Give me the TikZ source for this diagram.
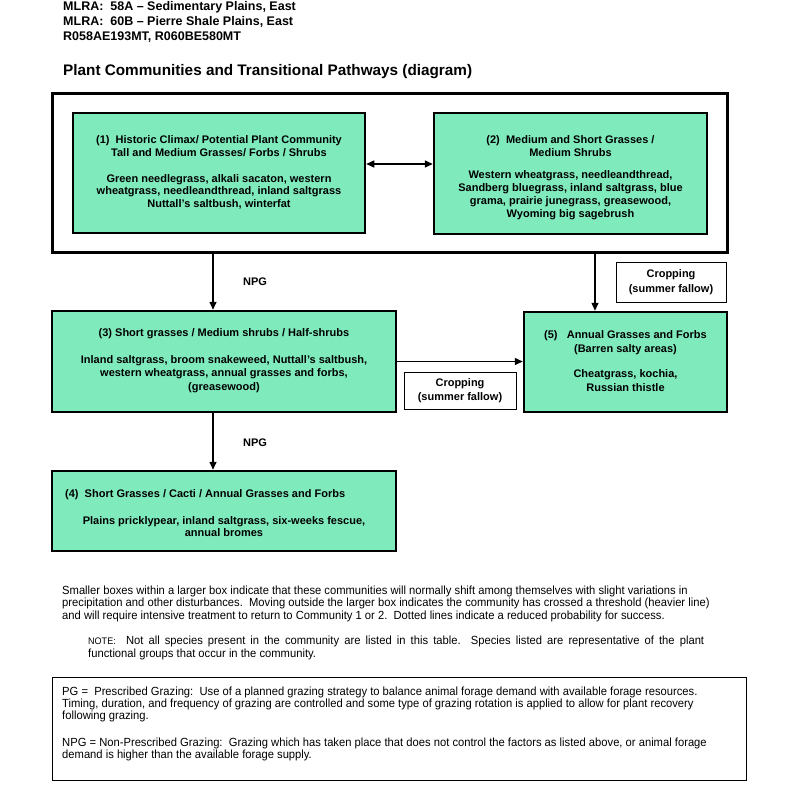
\documentclass[tikz,border=0pt]{standalone}
\usepackage{fontspec}
\setmainfont{Liberation Sans}
\newfontfamily\narrowfont[FakeStretch=0.95]{Liberation Sans}
\usetikzlibrary{arrows.meta}
\definecolor{mint}{RGB}{127,235,189}
\tikzset{
  plantbox/.style={draw=black, fill=mint, line width=2.5pt, rectangle, inner sep=0pt},
  outerbox/.style={draw=black, line width=3pt, rectangle, inner sep=0pt},
  cropbox/.style={draw=black, line width=1pt, fill=white, rectangle, inner sep=0pt, align=center,
     font=\bfseries\fontsize{11}{14.5}\selectfont},
  boxtext/.style={align=center, inner sep=0pt, font=\bfseries\fontsize{11}{12.8}\selectfont},
  lbl/.style={inner sep=0pt, font=\bfseries\fontsize{11}{13}\selectfont},
  head/.style={anchor=base west, inner sep=0pt, font=\bfseries\fontsize{12.5}{15}\selectfont},
  bodyline/.style={anchor=base west, inner sep=0pt, font=\narrowfont\fontsize{11.8}{12.5}\selectfont},
  arr/.style={line width=1.5pt, -{Triangle[length=8pt,width=7pt]}},
  darr/.style={line width=1.5pt, {Triangle[length=8pt,width=7pt]}-{Triangle[length=8pt,width=7pt]}},
  notebox/.style={draw=black, line width=0.9pt, rectangle, inner sep=0pt}
}
\begin{document}
\begin{tikzpicture}[x=1pt,y=-1pt]
\useasboundingbox[fill=white] (0,0) rectangle (800,809);

% header
\node[head] (h1) at (63,10) {MLRA:\ \ 58A -- Sedimentary Plains, East};
\node[head] (h2) at (63,25.5) {MLRA:\ \ 60B -- Pierre Shale Plains, East};
\node[head] (h3) at (63,40.5) {R058AE193MT, R060BE580MT};
\node[head, font=\bfseries\fontsize{15.3}{18}\selectfont] (title) at (63,75) {Plant Communities and Transitional Pathways (diagram)};

% outer threshold box
\node[outerbox, minimum width=675pt, minimum height=159pt] (outer) at (389.5,172.5) {};

% boxes
\node[plantbox, minimum width=292pt, minimum height=120pt] (b1) at (219,173) {};
\node[boxtext] (t1) at (219,172.5) {(1)\ \ Historic Climax/ Potential Plant Community\\
Tall and Medium Grasses/ Forbs / Shrubs\\[13pt]
Green needlegrass, alkali sacaton, western\\
wheatgrass, needleandthread, inland saltgrass\\
Nuttall's saltbush, winterfat};

\node[plantbox, minimum width=273pt, minimum height=121pt] (b2) at (570.5,173.5) {};
\node[boxtext, font=\bfseries\fontsize{11}{13}\selectfont] (t2) at (570.5,177.5) {(2)\ \ Medium and Short Grasses /\\
Medium Shrubs\\[9pt]
Western wheatgrass, needleandthread,\\
Sandberg bluegrass, inland saltgrass, blue\\
grama, prairie junegrass, greasewood,\\
Wyoming big sagebrush};

\node[plantbox, minimum width=344pt, minimum height=101pt] (b3) at (224,361.5) {};
\node[boxtext, font=\bfseries\fontsize{11}{13.3}\selectfont] (t3) at (224,360.5) {(3) Short grasses / Medium shrubs / Half-shrubs\\[14pt]
Inland saltgrass, broom snakeweed, Nuttall's saltbush,\\
western wheatgrass, annual grasses and forbs,\\
(greasewood)};

\node[plantbox, minimum width=203pt, minimum height=100pt] (b5) at (625.5,362) {};
\node[boxtext, font=\bfseries\fontsize{11}{14}\selectfont] (t5) at (625.5,361) {(5)\ \ \ Annual Grasses and Forbs\\
(Barren salty areas)\\[11pt]
Cheatgrass, kochia,\\
Russian thistle};

\node[plantbox, minimum width=344pt, minimum height=80pt] (b4) at (224,511) {};
\node[boxtext, anchor=base west] (t4a) at (65,497) {(4)\ \ Short Grasses / Cacti / Annual Grasses and Forbs};
\node[boxtext, font=\bfseries\fontsize{11}{12.3}\selectfont] (t4b) at (224,526.5) {Plains pricklypear, inland saltgrass, six-weeks fescue,\\
annual bromes};

% cropping boxes
\node[cropbox, minimum width=110pt, minimum height=40pt] (c1) at (671,282) {Cropping\\(summer fallow)};
\node[cropbox, minimum width=112pt, minimum height=37pt] (c2) at (460,390.5) {Cropping\\(summer fallow)};

% connectors
\coordinate (xl) at (213,0);
\coordinate (xr) at (595,0);
\coordinate (yd) at (0,164);
\draw[darr] (b1.east |- yd) -- (b2.west |- yd);
\draw[arr] (outer.south -| xl) -- (b3.north -| xl);
\draw[arr] (outer.south -| xr) -- (b5.north -| xr);
\draw[arr] (b3.east) -- (b3.east -| b5.west);
\draw[arr] (b3.south -| xl) -- (b4.north -| xl);

\node[lbl] (npg1) at (255,282) {NPG};
\node[lbl] (npg2) at (255,443) {NPG};

% explanatory text
\node[bodyline] (p1) at (62,594) {Smaller boxes within a larger box indicate that these communities will normally shift among themselves with slight variations in};
\node[bodyline] (p2) at (62,606.5) {precipitation and other disturbances.\ \ Moving outside the larger box indicates the community has crossed a threshold (heavier line)};
\node[bodyline] (p3) at (62,619) {and will require intensive treatment to return to Community 1 or 2.\ \ Dotted lines indicate a reduced probability for success.};
\node[bodyline] (n1) at (88,644.5) {\makebox[616pt][s]{{\fontsize{9.5}{10}\selectfont NOTE:}\ \ Not all species present in the community are listed in this table.\ \ Species listed are representative of the plant}};
\node[bodyline] (n2) at (88,657) {functional groups that occur in the community.};

% definitions box
\node[notebox, minimum width=694pt, minimum height=103pt] (defs) at (399,728.5) {};
\node[bodyline] (d1) at (62,695) {PG =\ \ Prescribed Grazing:\ \ Use of a planned grazing strategy to balance animal forage demand with available forage resources.};
\node[bodyline] (d2) at (62,707) {Timing, duration, and frequency of grazing are controlled and some type of grazing rotation is applied to allow for plant recovery};
\node[bodyline] (d3) at (62,719) {following grazing.};
\node[bodyline] (d4) at (62,746) {NPG = Non-Prescribed Grazing:\ \ Grazing which has taken place that does not control the factors as listed above, or animal forage};
\node[bodyline] (d5) at (62,758) {demand is higher than the available forage supply.};
\end{tikzpicture}
\end{document}
